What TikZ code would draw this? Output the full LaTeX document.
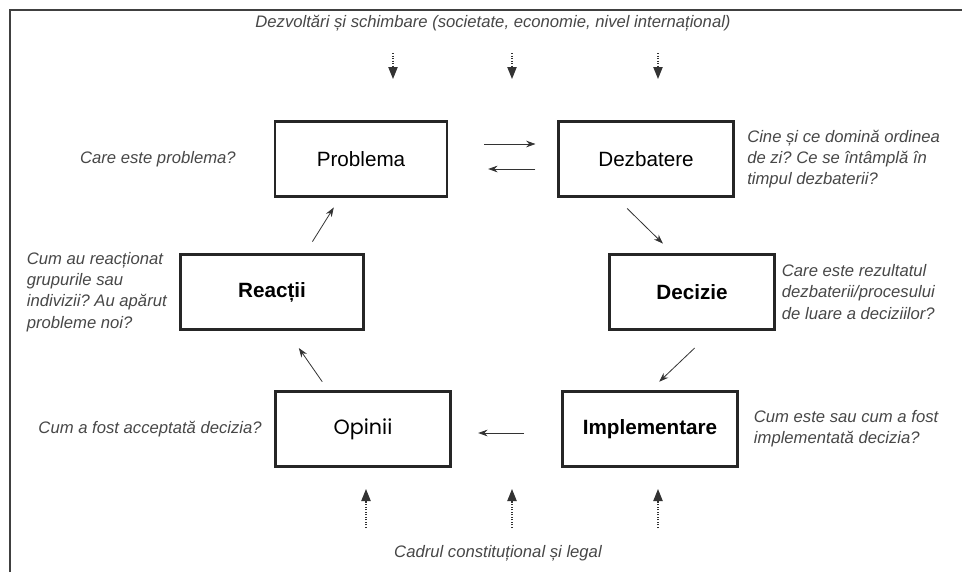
\documentclass[tikz,border=0pt]{standalone}
\usepackage{fontspec}
\setmainfont{Liberation Sans}
\newfontfamily\opinfont{Poppins}
\usetikzlibrary{arrows.meta,positioning}
\frenchspacing

\tikzset{
  stage/.style={draw=black!85, line width=1.8pt, minimum height=56pt,
    font=\fontsize{15.5}{18}\selectfont},
  note/.style={text=black!72, font=\fontsize{12.5}{16}\selectfont\itshape, align=left},
  link/.style={draw=black!80, line width=0.6pt, -{Stealth[length=7pt,width=5pt]}},
  ext/.style={draw=black!80, line width=0.9pt, densely dotted,
    -{Triangle[length=9pt,width=7pt]}},
}

\begin{document}
\begin{tikzpicture}[x=0.75pt,y=-0.75pt]
  \useasboundingbox (0,0) rectangle (962,572);
  % frame
  \draw[black!75, line width=1.5pt] (10,572) -- (10,10) -- (962,10);

  % stages of the cycle
  \node[stage, minimum width=129pt] (problema) at (361,159) {Problema};
  \node[stage, minimum width=131pt] (dezbatere) at (646,159) {Dezbatere};
  \node[stage, minimum width=137pt] (reactii) at (272,292) {\bfseries Reacții};
  \node[stage, minimum width=124pt] (decizie) at (692,292) {\bfseries Decizie};
  \node[stage, minimum width=131pt] (opinii) at (363,429) {\opinfont Opinii};
  \node[stage, minimum width=131pt] (implementare) at (650,429) {\bfseries Implementare};

  % questions next to the stages
  \node[note, left=25pt of problema] (q-problema) {Care este problema?};
  \node[note, right=6pt of dezbatere] (q-dezbatere) {Cine și ce domină ordinea\\de zi? Ce se întâmplă în\\timpul dezbaterii?};
  \node[note, left=6pt of reactii] (q-reactii) {Cum au reacționat\\grupurile sau\\indivizii? Au apărut\\probleme noi?};
  \node[note, right=1pt of decizie] (q-decizie) {Care este rezultatul\\dezbaterii/procesului\\de luare a deciziilor?};
  \node[note, left=6pt of opinii] (q-opinii) {Cum a fost acceptată decizia?};
  \node[note, right=8pt of implementare] (q-implementare) {Cum este sau cum a fost\\implementată decizia?};

  % context
  \node[note] (dezvoltari) at (493,23) {Dezvoltări și schimbare (societate, economie, nivel internațional)};
  \node[note] (cadrul) at (498,553) {Cadrul constituțional și legal};

  % cycle arrows
  \draw[link, shorten <=27pt, shorten >=16.5pt] ([yshift=11.25pt]problema.east) -- ([yshift=11.25pt]dezbatere.west);
  \draw[link, shorten <=16.5pt, shorten >=30pt] ([yshift=-7.5pt]dezbatere.west) -- ([yshift=-7.5pt]problema.east);
  \draw[link, shorten <=11.7pt, shorten >=10.6pt] ([xshift=-22.5pt]dezbatere.south) -- ([xshift=-14.25pt]decizie.north);
  \draw[link, shorten <=19pt, shorten >=9.5pt] ([xshift=15.75pt]decizie.south) -- (implementare.north);
  \draw[link, shorten <=28pt, shorten >=20pt] ([yshift=-3pt]implementare.west) -- ([yshift=-3pt]opinii.east);
  \draw[link, shorten <=8pt, shorten >=16pt] ([xshift=-26pt]opinii.north) -- ([xshift=11pt]reactii.south);
  \draw[link, shorten <=10.5pt, shorten >=8.8pt] ([xshift=24.75pt]reactii.north) -- ([xshift=-15.75pt]problema.south);

  % influences from outside
  \foreach \x [count=\i] in {393,512,658} {
    \coordinate (from-top-\i) at (\x,53);
    \coordinate (to-top-\i) at (\x,79);
    \draw[ext] (from-top-\i) -- (to-top-\i);
  }
  \foreach \x [count=\i] in {366,512,658} {
    \coordinate (from-bottom-\i) at (\x,528);
    \coordinate (to-bottom-\i) at (\x,489);
    \draw[ext] (from-bottom-\i) -- (to-bottom-\i);
  }
\end{tikzpicture}
\end{document}
